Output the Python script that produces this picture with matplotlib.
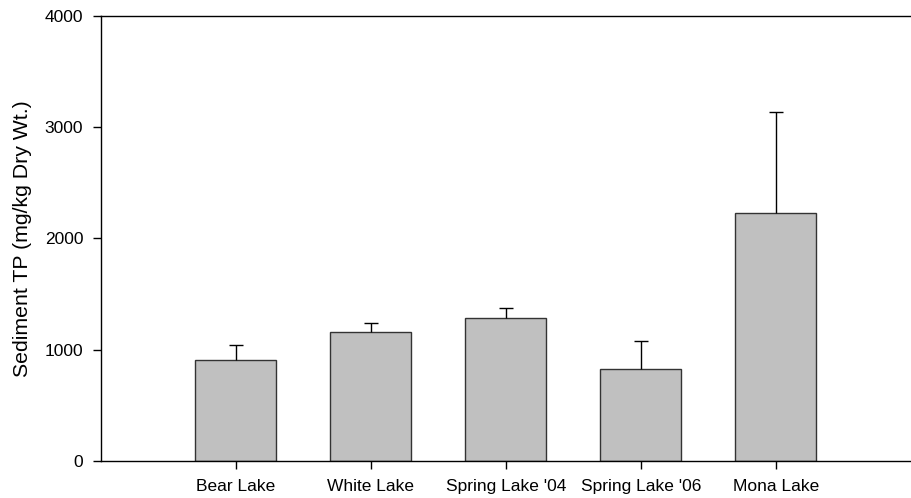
import matplotlib
matplotlib.use("Agg")
import matplotlib.pyplot as plt

plt.rcParams['font.family'] = ['Liberation Sans', 'DejaVu Sans']

lakes = ["Bear Lake", "White Lake", "Spring Lake '04", "Spring Lake '06", "Mona Lake"]
tp_mean = [905, 1155, 1284, 822, 2231]
tp_err = [133, 86, 92, 252, 905]
y_ticks = [0, 1000, 2000, 3000, 4000]

W, H = 911, 498
fig = plt.figure(figsize=(W / 100, H / 100), dpi=100)
ax = fig.add_axes([100.7 / W, (H - 460.7) / H, (W - 100.7) / W, (460.7 - 16) / H])

x = list(range(1, len(lakes) + 1))
ax.bar(x, tp_mean, width=0.6, color="#c0c0c0", edgecolor="#333333", linewidth=1.0, zorder=2)
_, caps, _ = ax.errorbar(x, tp_mean, yerr=[[0] * len(tp_err), tp_err], fmt="none",
                         ecolor="black", elinewidth=1.0, capsize=4.8, capthick=1.0, zorder=3)
# upper-only error bars: hide the cap sitting on the bar top
caps[0].set_visible(False)

ax.set_xlim(0, 6)
ax.set_ylim(0, 4000)
ax.set_xticks(x)
ax.set_xticklabels(lakes, fontsize=12.5)
ax.set_yticks(y_ticks)
ax.set_yticklabels([str(v) for v in y_ticks], fontsize=12.5)
ax.set_ylabel("Sediment TP (mg/kg Dry Wt.)", fontsize=15.3, labelpad=9.5)

ax.spines['right'].set_visible(False)
for s in ['left', 'top', 'bottom']:
    ax.spines[s].set_linewidth(1.0)
    ax.spines[s].set_color("black")
ax.tick_params(axis='both', direction='out', length=6, width=1.0)
ax.tick_params(axis='x', pad=7)
ax.tick_params(axis='y', pad=6.5)

fig.savefig("out.png", dpi=100)
